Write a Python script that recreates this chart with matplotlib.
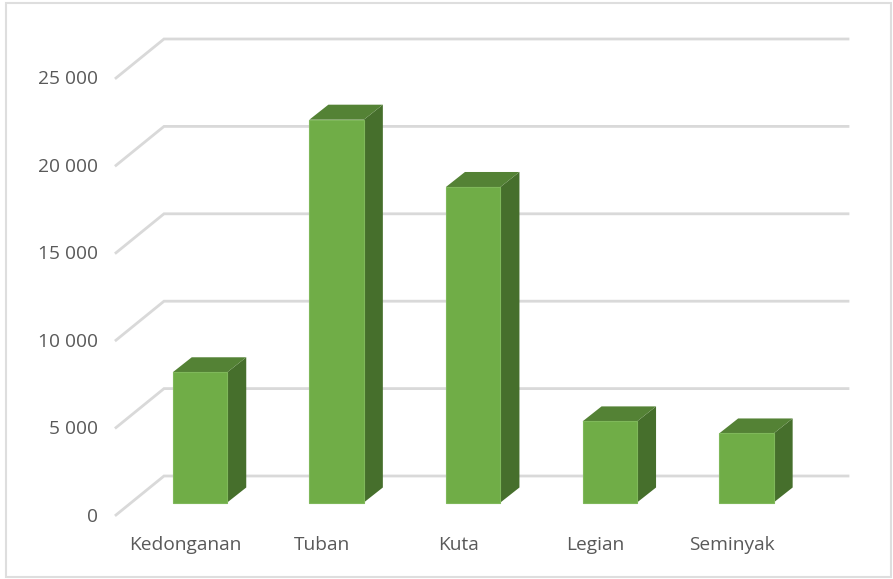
import matplotlib
matplotlib.use("Agg")
import matplotlib.pyplot as plt
from matplotlib.patches import Polygon, Rectangle

categories = ["Kedonganan", "Tuban", "Kuta", "Legian", "Seminyak"]
values = [7450, 21900, 18050, 4640, 3950]
ticks = [0, 5000, 10000, 15000, 20000, 25000]
tick_labels = ["0", "5 000", "10 000", "15 000", "20 000", "25 000"]

W, H = 893, 579
fig = plt.figure(figsize=(W / 100, H / 100), dpi=100)
ax = fig.add_axes([0, 0, 1, 1])
ax.axis("off")

# axes run in category units / value units, matched to the picture
px_per_cat = 136.6
px_per_val = 87.4 / 5000
x0_px = 200.0   # centre of first bar
y0_px = 515.0   # front of zero line
ax.set_xlim(-x0_px / px_per_cat, (W - x0_px) / px_per_cat)
ax.set_ylim(-(H - y0_px) / px_per_val, y0_px / px_per_val)

# 3d offsets
grid_dx = 48 / px_per_cat
grid_dy = 39 / px_per_val
bar_dx = 19 / px_per_cat
bar_dy = 15 / px_per_val
bar_w = 54.5 / px_per_cat
bar_base = 12.5 / px_per_val
left = (116 - x0_px) / px_per_cat
right = (848 - x0_px) / px_per_cat

grid_col = "#d9d9d9"
for t in ticks:
    ax.plot([left, left + grid_dx, right], [t, t + grid_dy, t + grid_dy],
            color=grid_col, lw=2, solid_joinstyle="miter", zorder=1)

for i, v in enumerate(values):
    l = i - bar_w / 2
    r = i + bar_w / 2
    b = bar_base
    t = b + v
    ax.add_patch(Polygon([(r, b), (r + bar_dx, b + bar_dy), (r + bar_dx, t + bar_dy), (r, t)],
                         fc="#466f2c", ec="none", zorder=2))
    ax.add_patch(Polygon([(l, t), (r, t), (r + bar_dx, t + bar_dy), (l + bar_dx, t + bar_dy)],
                         fc="#548235", ec="none", zorder=2))
    ax.add_patch(Rectangle((l, b), bar_w, v, fc="#70ad47", ec="#7fb85a", lw=0.8, zorder=3))

font = "Open Sans"
for t, lab in zip(ticks, tick_labels):
    ax.text(left - 18 / px_per_cat, t - 1.5 / px_per_val, lab, ha="right", va="center",
            fontsize=13.8, color="#595959", family=font)
for i, c in enumerate(categories):
    ax.text(i - 14.5 / px_per_cat, -30 / px_per_val, c, ha="center", va="center",
            fontsize=13.8, color="#595959", family=font)

# outer frame of the picture
fig.add_artist(Rectangle((6 / W, 1 - 577 / H), 885 / W, 574 / H, transform=fig.transFigure,
                         fc="none", ec="#dedede", lw=1.5))

fig.savefig("out.png", dpi=100)
